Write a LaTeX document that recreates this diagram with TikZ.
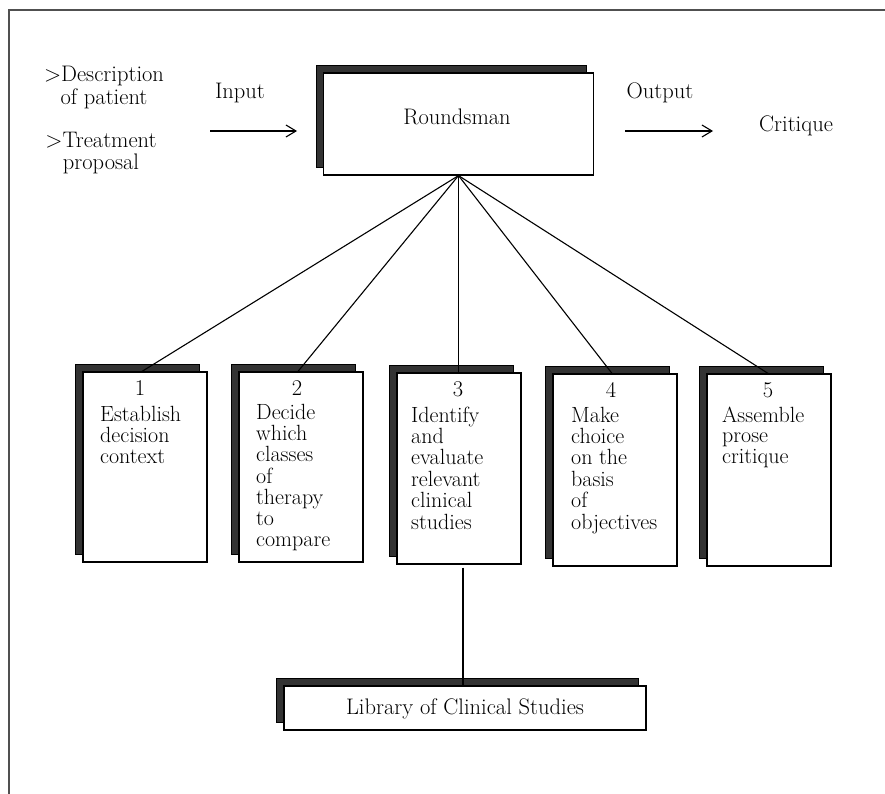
\documentclass[tikz,border=0pt]{standalone}
\usepackage{fontspec}
\usetikzlibrary{arrows.meta,shadows,calc}
\definecolor{shadowgray}{HTML}{333333}
\definecolor{framegray}{HTML}{505050}
\begin{document}
\begin{tikzpicture}[x=1pt,y=-1pt,
  txt/.style={inner sep=0pt, anchor=base, font=\fontsize{22.5}{21}\selectfont},
  boxtxt/.style={inner sep=0pt, anchor=base west, font=\fontsize{22}{20.6}\selectfont},
  frontbox/.style={draw=black, line width=1.2pt, fill=white, inner sep=0pt,
    copy shadow={shadow xshift=-7.5pt, shadow yshift=8pt, fill=shadowgray, draw=black, line width=0.6pt}},
  conn/.style={line width=1.1pt, black},
  arr/.style={line width=1.1pt, -{Straight Barb[length=10pt,width=12pt,line width=1.1pt]}}
]
\useasboundingbox (0,0) rectangle (885,794);
% frame
\draw[framegray, line width=2pt] (9,794) -- (9,10) -- (885,10);

% Roundsman
\node[frontbox, minimum width=270pt, minimum height=102pt] (r) at (458.5,124) {};
\node[txt] (rt) at (457,125) {Roundsman};

% left inputs
\node[txt] (desc) at (104,82) {\begin{tabular}[t]{@{}c@{}}>Description\\of patient\end{tabular}};
\node[txt] (treat) at (101,148) {\begin{tabular}[t]{@{}c@{}}>Treatment\\proposal\end{tabular}};
\node[txt] (in) at (240,99) {Input};
\node[txt] (out) at (660,99) {Output};
\node[txt] (crit) at (796,132) {Critique};

\coordinate (ina) at (210,131);
\coordinate (inb) at (297,131);
\coordinate (outa) at (625,131);
\coordinate (outb) at (713,131);
\draw[arr] (ina) -- (inb);
\draw[arr] (outa) -- (outb);

% child boxes
\node[frontbox, minimum width=124pt, minimum height=190pt] (b1) at (145,467) {};
\node[frontbox, minimum width=124pt, minimum height=190pt] (b2) at (301,467) {};
\node[frontbox, minimum width=124pt, minimum height=191pt] (b3) at (459,468.5) {};
\node[frontbox, minimum width=124pt, minimum height=192pt] (b4) at (615,470) {};
\node[frontbox, minimum width=124pt, minimum height=192pt] (b5) at (769,470) {};

\node[txt] (n1) at (140,395) {1};
\node[txt] (n2) at (297,395) {2};
\node[txt] (n3) at (458,396) {3};
\node[txt] (n4) at (611,397) {4};
\node[txt] (n5) at (768,397) {5};

\node[boxtxt] (t1) at (100,421.5) {\begin{tabular}[t]{@{}l@{}}Establish\\decision\\context\end{tabular}};
\node[boxtxt] (t2) at (256,419) {\begin{tabular}[t]{@{}l@{}}Decide\\which\\classes\\of\\therapy\\to\\compare\end{tabular}};
\node[boxtxt] (t3) at (411,422) {\begin{tabular}[t]{@{}l@{}}Identify\\and\\evaluate\\relevant\\clinical\\studies\end{tabular}};
\node[boxtxt] (t4) at (571,422) {\begin{tabular}[t]{@{}l@{}}Make\\choice\\on the\\basis\\of\\objectives\end{tabular}};
\node[boxtxt] (t5) at (722,422) {\begin{tabular}[t]{@{}l@{}}Assemble\\prose\\critique\end{tabular}};

% library
\node[frontbox, minimum width=362pt, minimum height=44pt] (lib) at (465,708) {};
\node[txt] (libt) at (465,714) {Library of Clinical Studies};

% connectors
\draw[conn] (r.south) -- ($(b1.north)+(-3,0)$);
\draw[conn] (r.south) -- ($(b2.north)+(-3,0)$);
\draw[conn] (r.south) -- (b3.north -| r.south);
\draw[conn] (r.south) -- ($(b4.north)+(-3,0)$);
\draw[conn] (r.south) -- ($(b5.north)+(-1,0)$);
\coordinate (lt) at ($(b3.south)+(4,3)$);
\draw[conn] (lt) -- (lt |- lib.north);
\end{tikzpicture}
\end{document}
